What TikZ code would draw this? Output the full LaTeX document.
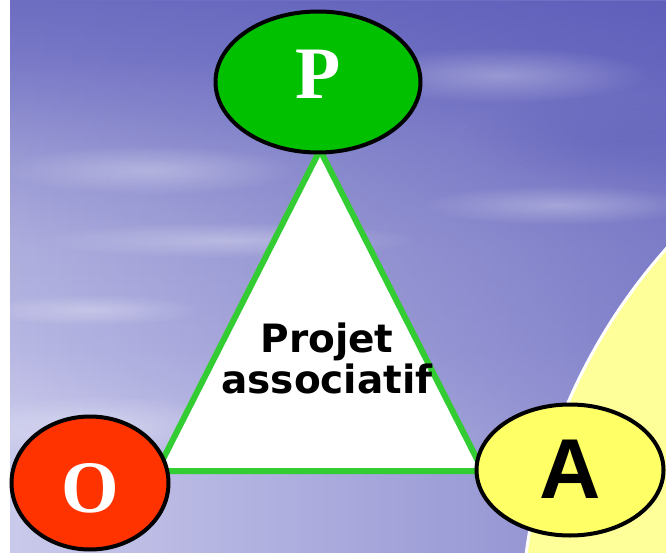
\documentclass[tikz,border=0pt]{standalone}
\usepackage{fontspec}
\setmainfont{Liberation Serif}
\newfontfamily\lettresans{Liberation Sans}
\newfontfamily\projfont{DejaVu Sans}
\usepackage{xcolor}
\definecolor{poa_green}{RGB}{0,192,0}
\definecolor{poa_red}{RGB}{255,51,0}
\definecolor{poa_yellow}{RGB}{255,255,102}
\definecolor{poa_pale}{RGB}{255,255,153}
\definecolor{poa_line}{RGB}{51,204,51}
\definecolor{sky_top}{RGB}{110,110,194}
\definecolor{sky_up}{RGB}{122,122,200}
\definecolor{sky_mid}{RGB}{152,152,212}
\definecolor{sky_cen}{RGB}{174,174,222}
\definecolor{sky_low}{RGB}{184,184,228}
\definecolor{sky_bot}{RGB}{202,202,236}
\definecolor{sky_dark}{RGB}{84,84,182}
\usetikzlibrary{shapes.geometric, fadings}
\pgfdeclareverticalshading{skyfond}{100bp}{color(0bp)=(sky_bot);
  color(25bp)=(sky_bot); color(36bp)=(sky_bot); color(43.5bp)=(sky_low);
  color(52.5bp)=(sky_cen); color(61.5bp)=(sky_mid); color(69.5bp)=(sky_up);
  color(75bp)=(sky_top); color(100bp)=(sky_top)}
\tikzfading[name=fade right, left color=transparent!100, right color=transparent!0]
\tikzfading[name=soft, inner color=transparent!70, outer color=transparent!100]

\begin{document}
\begin{tikzpicture}[x=1pt, y=-1pt,
    pole/.style={ellipse, draw=black, line width=4pt, inner sep=0pt},
    serifl/.style={font=\bfseries\fontsize{74}{74}\selectfont, text=white},
    cloud/.style={white, path fading=soft}]
  \useasboundingbox (0,0) rectangle (666,553);
  % sky
  \fill[shading=skyfond] (10,1) rectangle (666,553);
  \fill[sky_dark, path fading=fade right, opacity=0.55]
    (10,1) rectangle (666,553);
  \fill[sky_dark, path fading=soft] (620,140) ellipse (160 and 45);
  \fill[cloud] (150,170) ellipse (150 and 25);
  \fill[cloud] (230,240) ellipse (190 and 18);
  \fill[cloud] (90,310) ellipse (110 and 16);
  \fill[cloud] (500,75) ellipse (150 and 28);
  \fill[cloud] (560,205) ellipse (140 and 20);
  \fill[cloud] (100,425) ellipse (140 and 30);
  % yellow disc
  \begin{scope}
    \clip (10,1) rectangle (666,553);
    \draw[fill=poa_pale, draw=white, line width=3pt] (1097,631) circle (576);
  \end{scope}
  % triangle
  \coordinate (tP) at (320,150);
  \coordinate (tO) at (157,471);
  \coordinate (tA) at (483,471);
  \draw[fill=white, draw=poa_line, line width=6pt, line join=miter]
    (tP) -- (tA) -- (tO) -- cycle;
  \node[font=\projfont\bfseries\fontsize{39}{41}\selectfont,
        align=center] (proj) at (327,358) {Projet\\associatif};
  % poles
  \node[pole, fill=poa_green, minimum width=205pt, minimum height=141pt,
        serifl, text height=49pt, text depth=15pt] (P) at (318,82) {P};
  \node[pole, fill=poa_red, minimum width=157pt, minimum height=133pt,
        serifl, text height=58pt, text depth=0pt] (O) at (90,483) {O};
  \node[pole, fill=poa_yellow, minimum width=187pt, minimum height=131pt,
        font=\lettresans\bfseries\fontsize{85}{85}\selectfont,
        text height=61pt, text depth=5pt] (A) at (570,470) {A};
\end{tikzpicture}
\end{document}
